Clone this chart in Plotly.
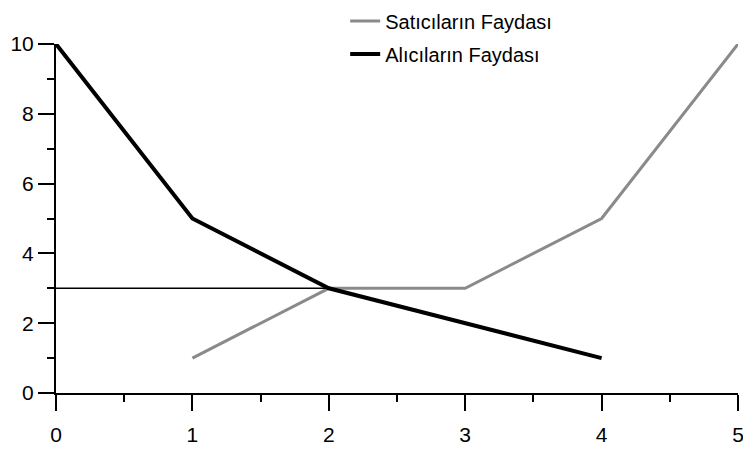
import plotly.graph_objects as go

x_vals = [0, 1, 2, 3, 4, 5]
alici_x = [0, 1, 2, 3, 4]
alici_y = [10, 5, 3, 2, 1]
satici_x = [1, 2, 3, 4, 5]
satici_y = [1, 3, 3, 5, 10]
eq_x = [0, 2]
eq_y = [3, 3]
y_ticks = [0, 2, 4, 6, 8, 10]

fig = go.Figure()
fig.add_trace(go.Scatter(x=satici_x, y=satici_y, mode="lines", name="Satıcıların Faydası",
                         legendgroup="s", line=dict(color="#8a8a8a", width=3), cliponaxis=False))
fig.add_trace(go.Scatter(x=alici_x, y=alici_y, mode="lines", name="Alıcıların Faydası",
                         legendgroup="a", line=dict(color="black", width=4), cliponaxis=False))
fig.add_trace(go.Scatter(x=eq_x, y=eq_y, mode="lines", showlegend=False,
                         line=dict(color="black", width=1.5), cliponaxis=False))

font_family = "Liberation Sans Narrow, Arial Narrow, Liberation Sans, Arial, sans-serif"
fig.update_layout(
    width=743, height=462,
    margin=dict(l=48, r=13, t=36, b=77, autoexpand=False),
    plot_bgcolor="white", paper_bgcolor="white",
    font=dict(family=font_family, size=21, color="black"),
    legend=dict(x=0.424, y=1.122, xanchor="left", yanchor="top",
                bgcolor="rgba(0,0,0,0)", font=dict(size=20), tracegroupgap=4),
    xaxis=dict(range=[0, 5], tickvals=x_vals, ticktext=[str(v) for v in x_vals],
               showline=True, linecolor="black", linewidth=2,
               ticks="outside", ticklen=16, tickwidth=2, tickcolor="black",
               minor=dict(dtick=0.5, ticks="outside", ticklen=7, tickwidth=2, tickcolor="black"),
               showgrid=False, zeroline=False, tickfont=dict(size=21),
               ticklabelstandoff=6),
    yaxis=dict(range=[0, 10], tickvals=y_ticks,
               showline=True, linecolor="black", linewidth=2,
               ticks="outside", ticklen=16, tickwidth=2, tickcolor="black",
               minor=dict(dtick=1, ticks="outside", ticklen=7, tickwidth=2, tickcolor="black"),
               showgrid=False, zeroline=False, tickfont=dict(size=21)),
)
fig.write_html("out.html")
